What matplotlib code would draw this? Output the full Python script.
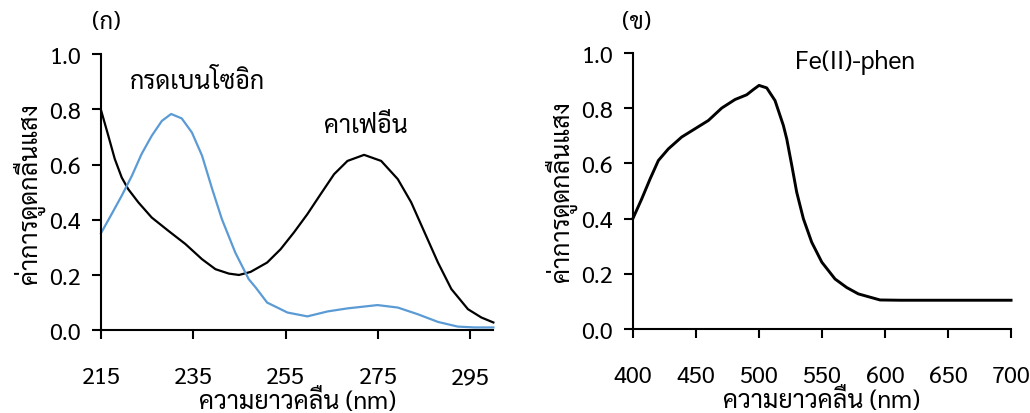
import matplotlib
matplotlib.use('Agg')
import matplotlib.pyplot as plt

plt.rcParams['font.family'] = ['Sarabun', 'DejaVu Sans']

# (ก) caffeine spectrum
caf_nm = [215, 216.6, 218.0, 219.5, 220.9, 223.1, 226.0, 229.6, 233.3, 236.9,
          239.8, 242.7, 244.9, 247.4, 251.0, 253.9, 256.8, 259.7, 262.6, 265.5,
          268.4, 272.0, 275.7, 279.3, 282.2, 285.1, 288.0, 290.9, 294.5, 297.4, 300]
caf_abs = [0.798, 0.704, 0.620, 0.553, 0.511, 0.463, 0.408, 0.360, 0.312, 0.257,
           0.221, 0.205, 0.200, 0.211, 0.245, 0.293, 0.354, 0.420, 0.493, 0.565,
           0.613, 0.635, 0.613, 0.547, 0.463, 0.354, 0.245, 0.149, 0.076, 0.046, 0.028]

# (ก) benzoic acid spectrum
benz_nm = [215, 217.3, 219.5, 221.7, 223.8, 226.0, 228.2, 230.2, 232.5, 234.7,
           236.9, 239.1, 241.2, 244.1, 247.0, 248.5, 251.0, 255.4, 259.7, 264.1,
           268.4, 274.9, 279.3, 283.6, 288.0, 292.3, 295.9, 300]
benz_abs = [0.351, 0.420, 0.487, 0.559, 0.638, 0.704, 0.758, 0.783, 0.767, 0.716,
            0.632, 0.511, 0.402, 0.281, 0.185, 0.155, 0.100, 0.064, 0.050, 0.068,
            0.079, 0.091, 0.082, 0.058, 0.030, 0.013, 0.010, 0.010]

# (ข) Fe(II)-phenanthroline spectrum
fe_nm = [400, 406.9, 413.5, 420.1, 428.0, 438.6, 449.2, 459.8, 470.4, 481.0,
         490.2, 495.5, 500.0, 506.1, 512.7, 519.3, 522.0, 526.0, 529.9, 535.2,
         541.8, 549.8, 560.3, 569.6, 578.8, 596.0, 611.9, 700]
fe_abs = [0.401, 0.471, 0.543, 0.610, 0.652, 0.695, 0.725, 0.755, 0.800, 0.831,
          0.848, 0.867, 0.882, 0.873, 0.827, 0.737, 0.688, 0.592, 0.495, 0.399,
          0.314, 0.242, 0.181, 0.150, 0.127, 0.105, 0.104, 0.104]

yticks = [0.0, 0.2, 0.4, 0.6, 0.8, 1.0]
xticks_a = [215, 235, 255, 275, 295]
xticks_b = [400, 450, 500, 550, 600, 650, 700]

ylab = 'ค่าการดูดกลืนแสง'
xlab = 'ความยาวคลื่น (nm)'
fs = 17

fig = plt.figure(figsize=(10.3, 4.14), dpi=100)
ax1 = fig.add_axes([0.098, 0.200, 0.381, 0.667])
ax2 = fig.add_axes([0.6146, 0.203, 0.367, 0.667])


def style(ax, xticks, xlim):
    ax.set_xlim(xlim)
    ax.set_ylim(0, 1.0)
    ax.set_xticks(xticks)
    ax.set_yticks(yticks)
    ax.set_yticklabels(['%.1f' % v for v in yticks])
    for s in ['top', 'right']:
        ax.spines[s].set_visible(False)
    for s in ['left', 'bottom']:
        ax.spines[s].set_linewidth(1.5)
        ax.spines[s].set_color('black')
    ax.tick_params(axis='y', direction='out', length=6.5, width=1.5, labelsize=fs, pad=8)
    ax.tick_params(axis='x', direction='out', length=6.5, width=1.5, labelsize=fs, pad=19)
    ax.set_ylabel(ylab, fontsize=18, labelpad=3)
    ax.set_xlabel(xlab, fontsize=18, labelpad=0)


ax1.plot(caf_nm, caf_abs, color='black', lw=1.6, clip_on=False)
ax1.plot(benz_nm, benz_abs, color='#5B9BD5', lw=1.6, clip_on=False)
style(ax1, xticks_a, (215, 300))
ax1.text(236, 0.90, 'กรดเบนโซอิก', fontsize=18, ha='center', va='center')
ax1.text(272.4, 0.74, 'คาเฟอีน', fontsize=18, ha='center', va='center')
fig.text(0.089, 0.945, '(ก)', fontsize=fs, ha='left', va='center')

ax2.plot(fe_nm, fe_abs, color='black', lw=2.1, clip_on=False)
style(ax2, xticks_b, (400, 700))
ax2.text(576, 0.97, 'Fe(II)-phen', fontsize=18, ha='center', va='center')
fig.text(0.604, 0.945, '(ข)', fontsize=fs, ha='left', va='center')

fig.savefig('out.png', dpi=100)
